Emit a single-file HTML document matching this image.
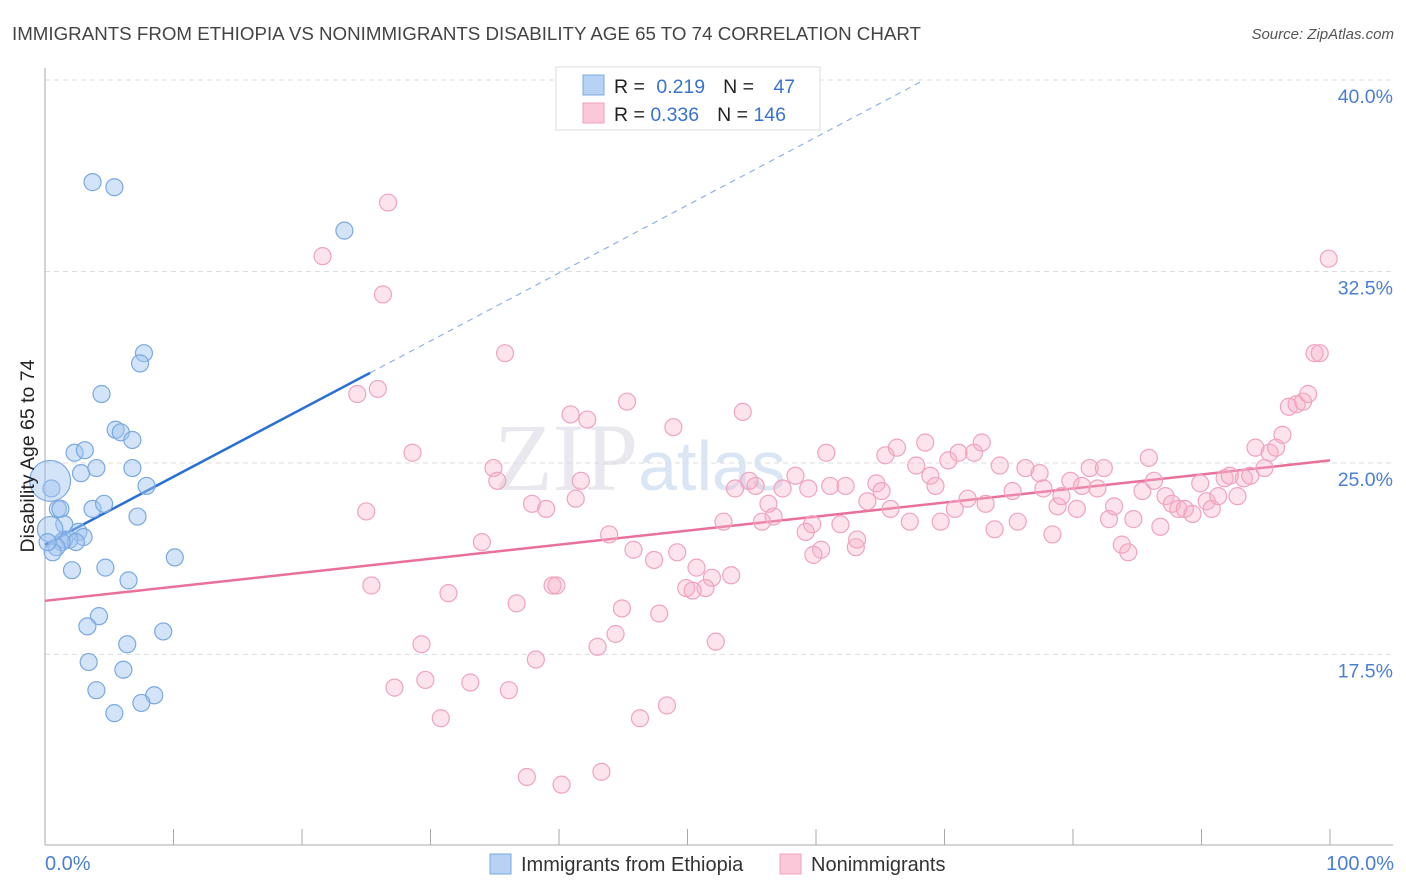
<!DOCTYPE html>
<html><head><meta charset="utf-8"><style>
body{margin:0;background:#fff;font-family:"Liberation Sans",sans-serif;}
svg{display:block}
</style></head><body>
<svg id="chart" width="1406" height="892">
<text x="12" y="40" font-size="18.5" fill="#444" textLength="909" lengthAdjust="spacingAndGlyphs">IMMIGRANTS FROM ETHIOPIA VS NONIMMIGRANTS DISABILITY AGE 65 TO 74 CORRELATION CHART</text>
<text x="1394" y="39" font-size="15" fill="#555" font-style="italic" text-anchor="end">Source: ZipAtlas.com</text>
<text x="640" y="490" font-size="96" fill="#e8e8ee" font-family="Liberation Serif" text-anchor="middle">ZIP<tspan fill="#dbe6f5" font-family="Liberation Sans" font-size="70">atlas</tspan></text>
<g id="grid"></g>
<g id="axes"></g>
<g id="trends"></g>
<g id="points"></g>
<text x="34" y="456" font-size="19.5" fill="#222" text-anchor="middle" transform="rotate(-90 34 456)">Disability Age 65 to 74</text>
<text x="45" y="870" font-size="20" fill="#4a7fd4">0.0%</text>
<text x="1394" y="870" font-size="20" fill="#4a7fd4" text-anchor="end">100.0%</text>
<g>
<rect x="556" y="67" width="264" height="63" fill="#fff" stroke="#ddd"/>
<rect x="583" y="75" width="21" height="20" fill="#b8d2f5" stroke="#7aa8e0"/>
<rect x="583" y="103" width="21" height="20" fill="#fac8d8" stroke="#f0a0bc"/>
<text x="614" y="93" font-size="19.5" fill="#222">R = <tspan fill="#3a72d0" dx="6">0.219</tspan><tspan dx="18" fill="#222">N = </tspan><tspan dx="14" fill="#3a72d0">47</tspan></text>
<text x="614" y="121" font-size="19.5" fill="#222">R = <tspan fill="#3a72d0">0.336</tspan><tspan dx="18" fill="#222">N = </tspan><tspan fill="#3a72d0">146</tspan></text>
</g>
<g>
<rect x="490" y="854" width="21" height="20" fill="#b8d2f5" stroke="#7aa8e0"/>
<text x="521" y="871" font-size="20" fill="#333">Immigrants from Ethiopia</text>
<rect x="780" y="854" width="21" height="20" fill="#fac8d8" stroke="#f0a0bc"/>
<text x="811" y="871" font-size="20" fill="#333">Nonimmigrants</text>
</g>
</svg>
<script>
const yTicks=[40,32.5,25,17.5];
const yTickLabels=["40.0%","32.5%","25.0%","17.5%"];
const xTicks=[0,10,20,30,40,50,60,70,80,90,100];
const blueX=[3.7,5.4,23.3,7.7,7.4,4.4,5.5,5.9,6.8,2.3,3.1,2.8,4.0,6.8,7.9,0.5,0.4,3.7,4.6,1.0,1.2,7.2,1.5,2.6,3.0,1.5,1.9,2.4,1.3,0.9,0.6,10.1,2.1,4.7,6.5,4.2,3.3,9.2,6.4,3.4,6.1,4.0,8.5,7.5,5.4,0.4,0.2];
const blueY=[36.0,35.8,34.1,29.3,28.9,27.7,26.3,26.2,25.9,25.4,25.5,24.6,24.8,24.8,24.1,24.0,24.3,23.2,23.4,23.2,23.2,22.9,22.6,22.3,22.1,22.0,22.0,21.9,21.9,21.7,21.5,21.3,20.8,20.9,20.4,19.0,18.6,18.4,17.9,17.2,16.9,16.1,15.9,15.6,15.2,22.4,21.9];
const blueSize=[1,1,1,1,1,1,1,1,1,1,1,1,1,1,1,1,2.4,1,1,1,1,1,1,1,1,1,1,1,1,1,1,1,1,1,1,1,1,1,1,1,1,1,1,1,1,1.5,1];
const pinkX=[26.7,21.6,26.3,35.8,24.3,25.9,28.6,45.3,40.9,42.2,48.9,54.3,34.9,35.2,37.9,39.0,41.3,41.7,25.0,34.0,43.9,45.8,47.4,49.2,50.7,51.9,53.4,49.9,51.4,50.4,52.8,53.7,54.8,55.3,56.3,56.7,55.8,57.4,58.4,59.4,59.7,59.2,60.8,61.1,62.3,61.9,60.4,59.8,63.1,63.2,64.0,64.7,65.1,65.4,66.3,65.8,67.3,67.8,68.5,68.9,69.3,70.3,69.7,70.8,71.1,72.3,72.9,71.8,73.2,73.9,74.3,75.3,75.7,76.3,77.4,77.7,78.4,78.8,79.1,79.8,80.3,80.7,81.3,81.9,82.4,82.8,83.2,83.8,84.3,84.7,85.4,85.9,86.3,86.8,87.2,87.7,88.2,88.7,89.3,89.9,90.4,90.8,91.3,91.8,92.2,92.8,93.3,93.8,94.2,94.9,95.3,95.8,96.3,96.8,97.4,97.9,98.3,98.8,99.2,99.9,25.4,31.4,36.7,39.5,39.8,44.9,47.8,44.4,43.0,29.3,52.2,38.2,27.2,29.6,33.1,36.1,30.8,46.3,48.4,37.5,40.2,43.3];
const pinkY=[35.2,33.1,31.6,29.3,27.7,27.9,25.4,27.4,26.9,26.7,26.4,27.0,24.8,24.3,23.4,23.2,23.6,24.3,23.1,21.9,22.2,21.6,21.2,21.5,20.9,20.5,20.6,20.1,20.1,20.0,22.7,24.0,24.3,24.1,23.4,22.9,22.7,24.0,24.5,24.0,22.6,22.3,25.4,24.1,24.1,22.6,21.6,21.4,21.7,22.0,23.5,24.2,23.9,25.3,25.6,23.2,22.7,24.9,25.8,24.5,24.1,25.1,22.7,23.2,25.4,25.4,25.8,23.6,23.4,22.4,24.9,23.9,22.7,24.8,24.6,24.0,22.2,23.3,23.7,24.3,23.2,24.1,24.8,24.0,24.8,22.8,23.3,21.8,21.5,22.8,23.9,25.2,24.3,22.5,23.7,23.4,23.2,23.2,23.0,24.2,23.5,23.2,23.7,24.4,24.5,23.7,24.4,24.5,25.6,24.8,25.4,25.6,26.1,27.2,27.3,27.4,27.7,29.3,29.3,33.0,20.2,19.9,19.5,20.2,20.2,19.3,19.1,18.3,17.8,17.9,18.0,17.3,16.2,16.5,16.4,16.1,15.0,15.0,15.5,12.7,12.4,12.9];
const blueTrend=[21.8,0.266];   // intercept, slope
const blueSolidEnd=[25.3];
const pinkTrend=[19.6,0.055];
const X0=45,X1=1330,YTOP=80,PXPER=25.53;
const sx=v=>X0+(X1-X0)*v/100;
const sy=v=>YTOP+(40-v)*PXPER;
const NS="http://www.w3.org/2000/svg";
function mk(tag,attrs,parent){const e=document.createElementNS(NS,tag);for(const k in attrs)e.setAttribute(k,attrs[k]);parent.appendChild(e);return e;}
const grid=document.getElementById('grid'),axes=document.getElementById('axes'),tr=document.getElementById('trends'),pts=document.getElementById('points');
yTicks.forEach((t,i)=>{
 const l=mk('line',{x1:X0,x2:1393,y1:sy(t),y2:sy(t),stroke:'#ddd','stroke-dasharray':'5,4'},grid);
 
 
 const tx=mk('text',{x:1393,y:sy(t)+23,'font-size':19.5,fill:'#4a7fd4','text-anchor':'end'},grid);
 tx.textContent=yTickLabels[i];
 
 
});
let a=mk('line',{x1:X0,x2:X0,y1:68,y2:845,stroke:'#aaa'},axes);


a=mk('line',{x1:X0,x2:1393,y1:845,y2:845,stroke:'#aaa'},axes);


xTicks.forEach(t=>{
 const l=mk('line',{x1:sx(t),x2:sx(t),y1:829,y2:845,stroke:'#aaa'},axes);
 
 
});
pinkX.forEach((x,i)=>{
 const c=mk('circle',{cx:sx(x),cy:sy(pinkY[i]),r:8.5,fill:'rgba(246,175,200,0.35)',stroke:'#f0a3bf','stroke-width':1.2},pts);
 
 
});
blueX.forEach((x,i)=>{
 const c=mk('circle',{cx:sx(x),cy:sy(blueY[i]),r:8.5*blueSize[i],fill:'rgba(160,196,240,0.45)',stroke:'#7aa8e0','stroke-width':1.2},pts);
 
 
});
const bEndDash=(40-blueTrend[0])/blueTrend[1];
let t=mk('line',{x1:sx(0),y1:sy(blueTrend[0]),x2:sx(blueSolidEnd[0]),y2:sy(blueTrend[0]+blueTrend[1]*blueSolidEnd[0]),stroke:'#2a6fd6','stroke-width':2.5},tr);


t=mk('line',{x1:sx(blueSolidEnd[0]),y1:sy(blueTrend[0]+blueTrend[1]*blueSolidEnd[0]),x2:sx(bEndDash),y2:sy(40),stroke:'#8fb3e6','stroke-width':1.2,'stroke-dasharray':'6,5'},tr);


t=mk('line',{x1:sx(0),y1:sy(pinkTrend[0]),x2:sx(100),y2:sy(pinkTrend[0]+pinkTrend[1]*100),stroke:'#e8709a','stroke-width':2.5},tr);


</script>
</body></html>
